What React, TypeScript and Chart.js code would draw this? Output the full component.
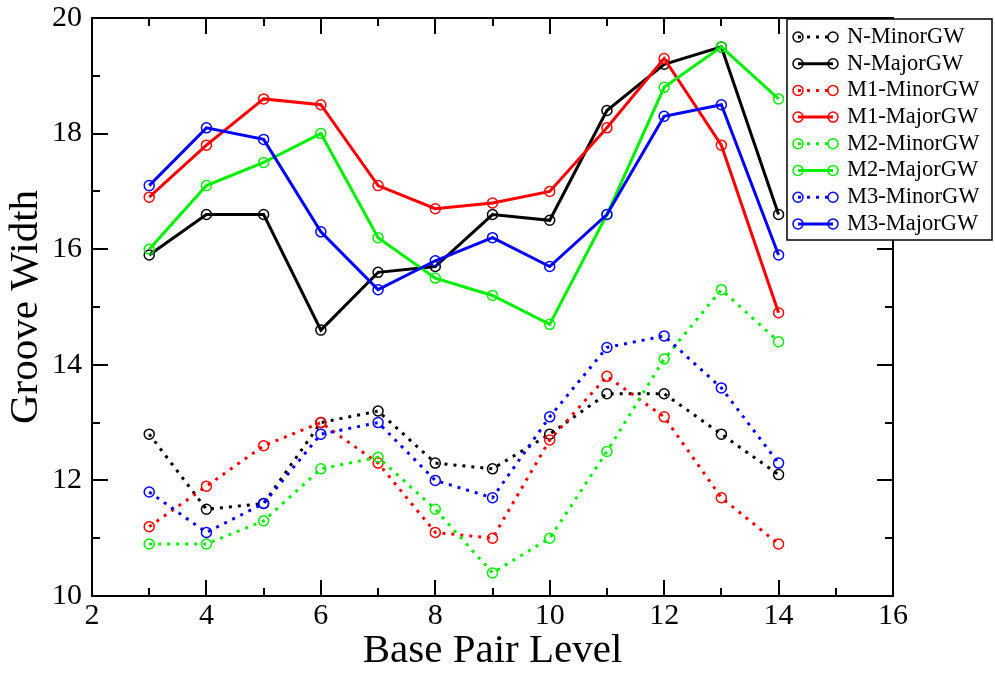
import React, { useEffect, useRef } from "react";
import { Chart, registerables } from "chart.js";

Chart.register(...registerables);

// ---- data ----
const basePairLevels = [3, 4, 5, 6, 7, 8, 9, 10, 11, 12, 13, 14];
const nMinor = [12.8, 11.5, 11.6, 13.0, 13.2, 12.3, 12.2, 12.8, 13.5, 13.5, 12.8, 12.1];
const nMajor = [15.9, 16.6, 16.6, 14.6, 15.6, 15.7, 16.6, 16.5, 18.4, 19.2, 19.5, 16.6];
const m1Minor = [11.2, 11.9, 12.6, 13.0, 12.3, 11.1, 11.0, 12.7, 13.8, 13.1, 11.7, 10.9];
const m1Major = [16.9, 17.8, 18.6, 18.5, 17.1, 16.7, 16.8, 17.0, 18.1, 19.3, 17.8, 14.9];
const m2Minor = [10.9, 10.9, 11.3, 12.2, 12.4, 11.5, 10.4, 11.0, 12.5, 14.1, 15.3, 14.4];
const m2Major = [16.0, 17.1, 17.5, 18.0, 16.2, 15.5, 15.2, 14.7, 16.6, 18.8, 19.5, 18.6];
const m3Minor = [11.8, 11.1, 11.6, 12.8, 13.0, 12.0, 11.7, 13.1, 14.3, 14.5, 13.6, 12.3];
const m3Major = [17.1, 18.1, 17.9, 16.3, 15.3, 15.8, 16.2, 15.7, 16.6, 18.3, 18.5, 15.9];

const seriesLabels = [
  "N-MinorGW",
  "N-MajorGW",
  "M1-MinorGW",
  "M1-MajorGW",
  "M2-MinorGW",
  "M2-MajorGW",
  "M3-MinorGW",
  "M3-MajorGW",
];
const seriesValues = [nMinor, nMajor, m1Minor, m1Major, m2Minor, m2Major, m3Minor, m3Major];
const seriesColors = ["#000000", "#000000", "#ff0000", "#ff0000", "#00f000", "#00f000", "#0000ff", "#0000ff"];
const seriesDotted = [true, false, true, false, true, false, true, false];

const xTitle = "Base Pair Level";
const yTitle = "Groove Width";
const xMin = 2, xMax = 16, xStep = 2;
const yMin = 10, yMax = 20, yStep = 2;

const SERIF = '"Liberation Serif", "Times New Roman", serif';

const framePlugin = {
  id: "gwFrame",
  afterDatasetsDraw(chart: any) {
    const { ctx, chartArea: a, scales } = chart;
    const xs = scales.x;
    const ys = scales.y;
    ctx.save();
    ctx.strokeStyle = "#000";
    ctx.lineWidth = 2;
    ctx.setLineDash([]);
    ctx.strokeRect(a.left, a.top, a.right - a.left, a.bottom - a.top);
    ctx.beginPath();
    for (let v = xs.min; v <= xs.max + 1e-9; v += 1) {
      const px = Math.round(xs.getPixelForValue(v));
      const len = Math.round(v - xs.min) % 2 === 0 ? 16 : 8;
      ctx.moveTo(px, a.bottom);
      ctx.lineTo(px, a.bottom - len);
      ctx.moveTo(px, a.top);
      ctx.lineTo(px, a.top + len);
    }
    for (let v = ys.min; v <= ys.max + 1e-9; v += 1) {
      const py = Math.round(ys.getPixelForValue(v));
      const len = Math.round(v - ys.min) % 2 === 0 ? 16 : 8;
      ctx.moveTo(a.left, py);
      ctx.lineTo(a.left + len, py);
      ctx.moveTo(a.right, py);
      ctx.lineTo(a.right - len, py);
    }
    ctx.stroke();
    ctx.restore();
  },
  afterDraw(chart: any) {
    const { ctx } = chart;
    const box = { left: 787, top: 19, right: 992, bottom: 240 };
    ctx.save();
    ctx.fillStyle = "#ffffff";
    ctx.fillRect(box.left, box.top, box.right - box.left, box.bottom - box.top);
    ctx.strokeStyle = "#000";
    ctx.lineWidth = 1.5;
    ctx.setLineDash([]);
    ctx.strokeRect(box.left, box.top, box.right - box.left, box.bottom - box.top);
    const y0 = 37;
    const step = 26.7;
    const x1 = 798;
    const x2 = 833;
    chart.data.datasets.forEach((ds: any, i: number) => {
      const y = y0 + i * step;
      ctx.strokeStyle = ds.borderColor;
      ctx.lineWidth = ds.borderWidth;
      ctx.setLineDash(ds.borderDash || []);
      ctx.beginPath();
      ctx.moveTo(x1, y);
      ctx.lineTo(x2, y);
      ctx.stroke();
      ctx.setLineDash([]);
      ctx.lineWidth = ds.pointBorderWidth;
      [x1, x2].forEach((cx) => {
        ctx.beginPath();
        ctx.arc(cx, y, ds.pointRadius, 0, Math.PI * 2);
        ctx.stroke();
      });
      ctx.fillStyle = "#000";
      ctx.font = `22.5px ${SERIF}`;
      ctx.textBaseline = "middle";
      ctx.textAlign = "left";
      ctx.fillText(ds.label, 847, y);
    });
    ctx.restore();
  },
};

export default function App() {
  const canvasRef = useRef<HTMLCanvasElement | null>(null);

  useEffect(() => {
    const canvas = canvasRef.current;
    if (!canvas) return;
    const datasets = seriesLabels.map((label, i) => ({
      label,
      data: basePairLevels.map((x, j) => ({ x, y: seriesValues[i][j] })),
      borderColor: seriesColors[i],
      backgroundColor: "rgba(0,0,0,0)",
      borderWidth: 3,
      borderDash: seriesDotted[i] ? [3, 6] : [],
      pointRadius: 5,
      pointBorderWidth: 1.5,
      pointBackgroundColor: "rgba(0,0,0,0)",
      pointBorderColor: seriesColors[i],
      pointStyle: "circle",
      tension: 0,
      order: seriesLabels.length - i,
    }));
    const chart = new Chart(canvas, {
      type: "line",
      data: { datasets },
      plugins: [framePlugin],
      options: {
        responsive: false,
        animation: false,
        layout: { padding: { top: 18, right: 102, left: 0, bottom: 0 } },
        plugins: { legend: { display: false }, tooltip: { enabled: false } },
        scales: {
          x: {
            type: "linear",
            min: xMin,
            max: xMax,
            afterFit: (s: any) => {
              s.height = 83;
              s.paddingLeft = 0;
              s.paddingRight = 0;
            },
            ticks: {
              stepSize: xStep,
              padding: 2,
              color: "#000",
              font: { family: SERIF, size: 30 },
            },
            grid: { display: false, drawTicks: false },
            border: { display: false },
            title: {
              display: true,
              text: xTitle,
              color: "#000",
              font: { family: SERIF, size: 41 },
              padding: { top: 0, bottom: 3 },
            },
          },
          y: {
            type: "linear",
            min: yMin,
            max: yMax,
            afterFit: (s: any) => {
              s.width = 92;
              s.paddingTop = 0;
              s.paddingBottom = 0;
            },
            ticks: {
              stepSize: yStep,
              padding: 10,
              color: "#000",
              font: { family: SERIF, size: 30 },
            },
            grid: { display: false, drawTicks: false },
            border: { display: false },
            title: {
              display: true,
              text: yTitle,
              color: "#000",
              font: { family: SERIF, size: 41 },
              padding: { top: 2, bottom: 0 },
            },
          },
        },
      },
    });
    return () => chart.destroy();
  }, []);

  return (
    <div style={{ position: "absolute", left: 0, top: 0, width: 995, height: 679, background: "#fff" }}>
      <canvas ref={canvasRef} width={995} height={679} style={{ display: "block" }} />
    </div>
  );
}
